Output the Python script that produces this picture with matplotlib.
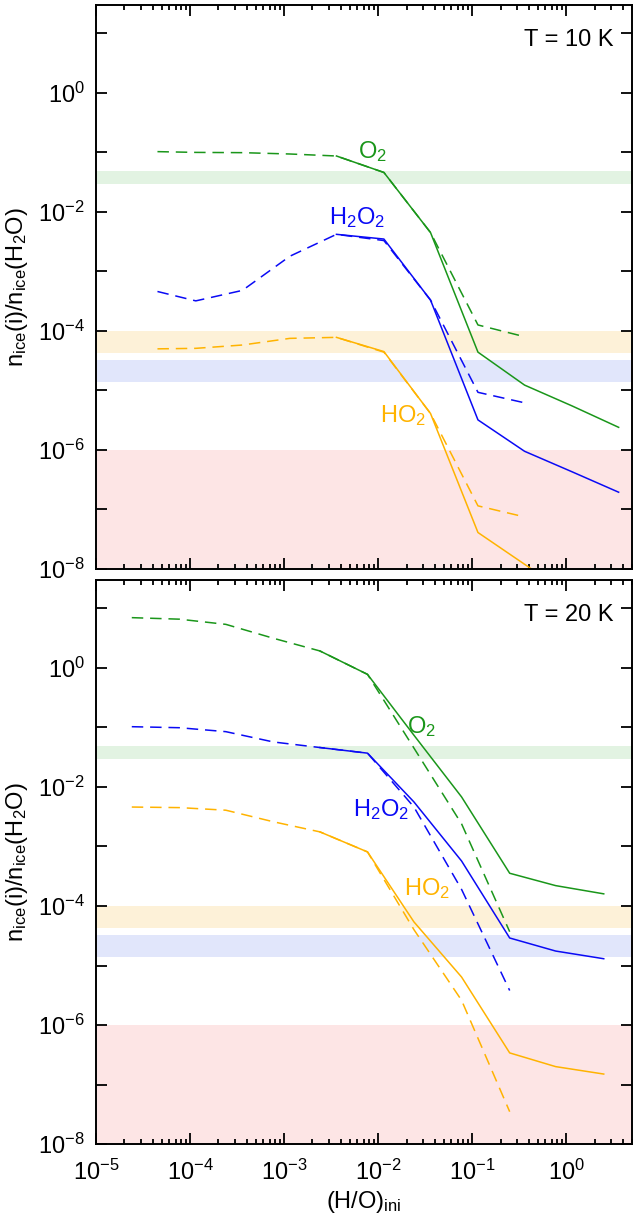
import matplotlib
matplotlib.use("Agg")
import matplotlib.pyplot as plt
from matplotlib.ticker import LogLocator, NullLocator

plt.rcParams['font.family'] = ['Liberation Sans', 'DejaVu Sans']
plt.rcParams['mathtext.fontset'] = 'custom'
plt.rcParams['mathtext.rm'] = 'Liberation Sans'
plt.rcParams['mathtext.it'] = 'Liberation Sans:italic'
plt.rcParams['mathtext.bf'] = 'Liberation Sans:bold'

# ---- T = 10 K ----
x10_dash = [4.5e-5, 1.15e-4, 3.6e-4, 1.15e-3, 3.6e-3, 1.15e-2, 3.6e-2, 0.115, 0.36]
x10_solid = [3.6e-3, 1.15e-2, 3.6e-2, 0.115, 0.36, 1.15, 3.6]
o2_10_dash = [0.103, 0.100, 0.099, 0.094, 0.087, 0.046, 4.5e-3, 1.26e-4, 8.0e-5]
o2_10_solid = [0.087, 0.046, 4.5e-3, 4.4e-5, 1.23e-5, 5.5e-6, 2.4e-6]
h2o2_10_dash = [4.6e-4, 3.2e-4, 4.8e-4, 1.8e-3, 4.2e-3, 3.3e-3, 3.3e-4, 9.3e-6, 6.2e-6]
h2o2_10_solid = [4.2e-3, 3.5e-3, 3.3e-4, 3.2e-6, 9.5e-7, 4.3e-7, 1.95e-7]
ho2_10_dash = [5.0e-5, 5.1e-5, 5.8e-5, 7.5e-5, 7.8e-5, 4.4e-5, 4.1e-6, 1.15e-7, 7.5e-8]
ho2_10_solid = [7.8e-5, 4.5e-5, 4.1e-6, 4.1e-8, 1.2e-8, 3.5e-9, 1.2e-9]

# ---- T = 20 K ----
x20_dash = [2.4e-5, 7.7e-5, 2.4e-4, 7.7e-4, 2.4e-3, 7.7e-3, 2.4e-2, 7.7e-2, 0.25]
x20_solid = [2.4e-3, 7.7e-3, 2.4e-2, 7.7e-2, 0.25, 0.77, 2.5]
o2_20_dash = [7.0, 6.6, 5.4, 3.15, 1.93, 0.78, 0.045, 2.4e-3, 3.7e-5]
o2_20_solid = [1.93, 0.78, 0.074, 6.8e-3, 3.55e-4, 2.2e-4, 1.6e-4]
h2o2_20_dash = [0.103, 0.099, 0.085, 0.057, 0.046, 0.037, 4.6e-3, 1.9e-4, 3.8e-6]
h2o2_20_solid = [0.046, 0.037, 5.6e-3, 5.7e-4, 2.9e-5, 1.75e-5, 1.3e-5]
ho2_20_dash = [4.6e-3, 4.5e-3, 4.07e-3, 2.6e-3, 1.76e-3, 8.1e-4, 4.0e-5, 2.6e-6, 3.5e-8]
ho2_20_solid = [1.76e-3, 8.1e-4, 5.4e-5, 6.4e-6, 3.4e-7, 2.0e-7, 1.5e-7]

# observed ranges (shaded bands)
band_o2 = (3.0e-2, 4.8e-2)
band_ho2 = (4.2e-5, 1.0e-4)
band_h2o2 = (1.4e-5, 3.3e-5)
band_limit = (1e-10, 1e-6)

green = '#1a961a'
blue = '#0a0af5'
orange = '#ffb300'

xticks = [1e-5, 1e-4, 1e-3, 1e-2, 1e-1, 1e0]
xticklabels = [r'$10^{-5}$', r'$10^{-4}$', r'$10^{-3}$', r'$10^{-2}$', r'$10^{-1}$', r'$10^{0}$']
yticks = [1e-8, 1e-7, 1e-6, 1e-5, 1e-4, 1e-3, 1e-2, 1e-1, 1e0, 1e1]
yticklabels = [r'$10^{-8}$', '', r'$10^{-6}$', '', r'$10^{-4}$', '', r'$10^{-2}$', '', r'$10^{0}$', '']

fig = plt.figure(figsize=(6.33, 12.15), dpi=100)
ax1 = fig.add_axes([0.1517, 0.5317, 0.8468, 0.4642])
ax2 = fig.add_axes([0.1517, 0.0584, 0.8468, 0.4642])

panels = [
    (ax1, x10_dash, x10_solid, [o2_10_dash, h2o2_10_dash, ho2_10_dash],
     [o2_10_solid, h2o2_10_solid, ho2_10_solid], 'T = 10 K',
     [(8.8e-3, 0.105), (5.9e-3, 8.1e-3), (1.85e-2, 3.8e-6)]),
    (ax2, x20_dash, x20_solid, [o2_20_dash, h2o2_20_dash, ho2_20_dash],
     [o2_20_solid, h2o2_20_solid, ho2_20_solid], 'T = 20 K',
     [(2.9e-2, 0.105), (1.08e-2, 4.2e-3), (3.3e-2, 1.96e-4)]),
]
colors = [green, blue, orange]
names = [r'O$_2$', r'H$_2$O$_2$', r'HO$_2$']

for ax, xd, xs, dashes, solids, tlabel, lpos in panels:
    ax.set_xscale('log')
    ax.set_yscale('log')
    ax.axhspan(*band_o2, color='#e2f3e2', lw=0, zorder=0)
    ax.axhspan(*band_ho2, color='#fdf1d8', lw=0, zorder=0)
    ax.axhspan(*band_h2o2, color='#e1e6fb', lw=0, zorder=0)
    ax.axhspan(*band_limit, color='#fde5e5', lw=0, zorder=0)
    for yd, ys, c, name, (tx, ty) in zip(dashes, solids, colors, names, lpos):
        ax.plot(xd, yd, color=c, lw=1.1, dashes=(7.5, 4.5))
        ax.plot(xs, ys, color=c, lw=1.1)
        ax.text(tx, ty, name, color=c, fontsize=17, ha='center', va='center')
    ax.text(0.966, 0.938, tlabel, transform=ax.transAxes, fontsize=17,
            ha='right', va='center')
    ax.set_xlim(1e-5, 5)
    ax.set_ylim(1e-8, 30)
    ax.set_xticks(xticks)
    ax.xaxis.set_minor_locator(LogLocator(base=10, subs=range(2, 10), numticks=20))
    ax.set_yticks(yticks)
    ax.set_yticklabels(yticklabels)
    ax.yaxis.set_minor_locator(NullLocator())
    ax.tick_params(which='both', direction='in', top=True, right=True, width=1.3)
    ax.tick_params(which='major', length=8, labelsize=17, pad=8)
    ax.tick_params(axis='x', which='major', pad=11)
    ax.tick_params(which='minor', length=3.5)
    for s in ax.spines.values():
        s.set_linewidth(1.4)
    ax.set_ylabel(r'n$_{\rm ice}$(i)/n$_{\rm ice}$(H$_2$O)', fontsize=17, labelpad=6)

ax1.set_xticklabels([])
ax2.set_xticklabels(xticklabels)
ax2.set_xlabel(r'(H/O)$_{\rm ini}$', fontsize=17, labelpad=3)

fig.savefig('out.png', dpi=100)
